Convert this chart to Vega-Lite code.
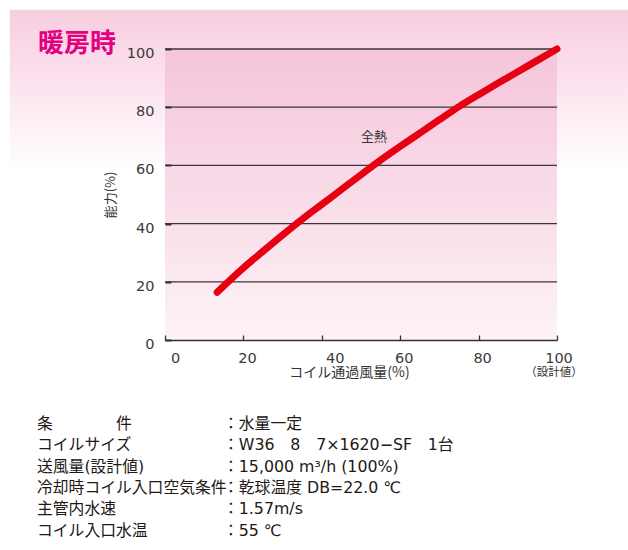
{
  "$schema": "https://vega.github.io/schema/vega-lite/v6.json",
  "background": "white",
  "padding": {"left": 9, "top": 9, "right": 0, "bottom": 0},
  "autosize": {"type": "pad"},
  "spacing": 37,
  "config": {
    "font": "Noto Sans CJK JP",
    "view": {"stroke": null},
    "title": {"font": "Noto Sans CJK JP"},
    "axis": {"labelFont": "DejaVu Sans", "titleFont": "Noto Sans CJK JP"}
  },
  "datasets": {
    "curve": [
      {"airflow": 13.3, "capacity": 16.4},
      {"airflow": 20, "capacity": 24.8},
      {"airflow": 25, "capacity": 30.5},
      {"airflow": 30, "capacity": 36.1},
      {"airflow": 35, "capacity": 41.5},
      {"airflow": 40, "capacity": 46.6},
      {"airflow": 45, "capacity": 51.7},
      {"airflow": 50, "capacity": 56.8},
      {"airflow": 55, "capacity": 61.8},
      {"airflow": 60, "capacity": 66.5},
      {"airflow": 65, "capacity": 71.1},
      {"airflow": 70, "capacity": 75.7},
      {"airflow": 75, "capacity": 80.2},
      {"airflow": 80, "capacity": 84.3},
      {"airflow": 85, "capacity": 88.3},
      {"airflow": 90, "capacity": 92.2},
      {"airflow": 95, "capacity": 96.1},
      {"airflow": 100, "capacity": 100}
    ],
    "gridlines": [{"v": 20}, {"v": 40}, {"v": 60}, {"v": 80}, {"v": 100}],
    "conditions": [
      {"row": 0, "col": "項目", "text": "条　　　　件"},
      {"row": 0, "col": "内容", "text": "：水量一定"},
      {"row": 1, "col": "項目", "text": "コイルサイズ"},
      {"row": 1, "col": "内容", "text": "：W36　8　7×1620−SF　1台"},
      {"row": 2, "col": "項目", "text": "送風量(設計値)"},
      {"row": 2, "col": "内容", "text": "：15,000 m³/h (100%)"},
      {"row": 3, "col": "項目", "text": "冷却時コイル入口空気条件"},
      {"row": 3, "col": "内容", "text": "：乾球温度 DB=22.0 ℃"},
      {"row": 4, "col": "項目", "text": "主管内水速"},
      {"row": 4, "col": "内容", "text": "：1.57m/s"},
      {"row": 5, "col": "項目", "text": "コイル入口水温"},
      {"row": 5, "col": "内容", "text": "：55 ℃"}
    ]
  },
  "vconcat": [
    {
      "width": 392,
      "height": 291,
      "title": {
        "text": "暖房時",
        "anchor": "start",
        "frame": "group",
        "dx": -127,
        "dy": 47,
        "offset": 0,
        "fontSize": 26,
        "fontWeight": "bold",
        "color": "#e4007f"
      },
      "layer": [
        {
          "data": {"values": [{}]},
          "mark": {
            "type": "rect",
            "color": {
              "gradient": "linear",
              "x1": 0, "y1": 0, "x2": 0, "y2": 1,
              "stops": [
                {"offset": 0, "color": "#f8cde0"},
                {"offset": 0.45, "color": "#fbe3ee"},
                {"offset": 1, "color": "#ffffff"}
              ]
            }
          },
          "encoding": {
            "x": {"datum": -39.6, "type": "quantitative", "scale": {"domain": [0, 100], "nice": false, "zero": false}},
            "x2": {"datum": 118.3},
            "y": {"datum": 113.5, "type": "quantitative", "scale": {"domain": [0, 100], "nice": false, "zero": false}},
            "y2": {"datum": 58}
          }
        },
        {
          "data": {"values": [{}]},
          "mark": {
            "type": "rect",
            "color": {
              "gradient": "linear",
              "x1": 0, "y1": 0, "x2": 0, "y2": 1,
              "stops": [
                {"offset": 0, "color": "#f5c5da"},
                {"offset": 1, "color": "#fdf2f7"}
              ]
            }
          },
          "encoding": {
            "x": {"datum": 0, "type": "quantitative", "scale": {"domain": [0, 100], "nice": false, "zero": false}},
            "x2": {"datum": 100},
            "y": {"datum": 100, "type": "quantitative", "scale": {"domain": [0, 100], "nice": false, "zero": false}},
            "y2": {"datum": 0}
          }
        },
        {
          "data": {"name": "gridlines"},
          "mark": {"type": "rule", "color": "#3a3536", "strokeWidth": 1.3},
          "encoding": {
            "y": {"field": "v", "type": "quantitative", "scale": {"domain": [0, 100], "nice": false, "zero": false}}
          }
        },
        {
          "data": {"name": "curve"},
          "mark": {"type": "line", "color": "#e60012", "strokeWidth": 7, "strokeCap": "round", "strokeJoin": "round", "interpolate": "monotone"},
          "encoding": {
            "x": {
              "field": "airflow",
              "type": "quantitative",
              "title": "コイル通過風量(%)",
              "scale": {"domain": [0, 100], "nice": false, "zero": false},
              "axis": {
                "title": "コイル通過風量(%)",
                "values": [0, 20, 40, 60, 80, 100],
                "zindex": 1,
                "grid": false,
                "domain": true,
                "domainColor": "#333333",
                "domainWidth": 1.6,
                "ticks": true,
                "tickSize": -5,
                "tickWidth": 1.3,
                "tickColor": "#333333",
                "labelFlush": false,
                "labelFontSize": 14.5,
                "labelColor": "#3a3a3a",
                "labelPadding": 16.5,
                "labelOffset": {"condition": [{"test": "datum.value === 0", "value": 10}, {"test": "datum.value === 40", "value": 13}, {"test": "datum.value === 100", "value": 1.5}], "value": 3.5},
                "titleFontSize": 14,
                "titleFontWeight": "normal",
                "titleColor": "#333333",
                "titleX": 184,
                "titleY": 32,
                "titleBaseline": "middle"
              }
            },
            "y": {
              "field": "capacity",
              "type": "quantitative",
              "title": "能力(%)",
              "scale": {"domain": [0, 100], "nice": false, "zero": false},
              "axis": {
                "title": "能力(%)",
                "values": [0, 20, 40, 60, 80, 100],
                "zindex": 1,
                "grid": false,
                "domain": false,
                "ticks": true,
                "tickSize": -6,
                "tickWidth": 2,
                "tickColor": "#333333",
                "labelFlush": false,
                "labelFontSize": 14.5,
                "labelColor": "#3a3a3a",
                "labelPadding": 17,
                "labelOffset": 4.5,
                "titleFontSize": 13,
                "titleFontWeight": "normal",
                "titleColor": "#333333",
                "titleX": -55,
                "titleBaseline": "middle"
              }
            }
          }
        },
        {
          "data": {"values": [{}]},
          "mark": {"type": "text", "text": "全熱", "fontSize": 13, "color": "#333333", "align": "center", "baseline": "middle"},
          "encoding": {
            "x": {"datum": 53.3, "type": "quantitative", "scale": {"domain": [0, 100], "nice": false, "zero": false}},
            "y": {"datum": 69.7, "type": "quantitative", "scale": {"domain": [0, 100], "nice": false, "zero": false}}
          }
        },
        {
          "data": {"values": [{}]},
          "mark": {"type": "text", "text": "（設計値）", "fontSize": 11.5, "color": "#333333", "align": "center", "baseline": "middle", "dx": -3, "dy": 33},
          "encoding": {
            "x": {"datum": 100, "type": "quantitative", "scale": {"domain": [0, 100], "nice": false, "zero": false}},
            "y": {"datum": 0, "type": "quantitative", "scale": {"domain": [0, 100], "nice": false, "zero": false}}
          }
        }
      ]
    },
    {
      "width": 242,
      "height": 106.5,
      "data": {"name": "conditions"},
      "mark": {"type": "text", "align": "left", "baseline": "middle", "fontSize": 15.8, "font": "DejaVu Sans, Noto Sans CJK JP", "color": "#231815"},
      "encoding": {
        "x": {"field": "col", "type": "nominal", "axis": null, "scale": {"type": "point", "domain": ["項目", "内容"], "range": [-128, 58], "padding": 0}},
        "y": {"field": "row", "type": "ordinal", "axis": null, "scale": {"type": "point", "padding": 0}},
        "text": {"field": "text"},
        "fontWeight": {"condition": {"test": "datum.row === 0", "value": "bold"}, "value": "normal"}
      }
    }
  ]
}
